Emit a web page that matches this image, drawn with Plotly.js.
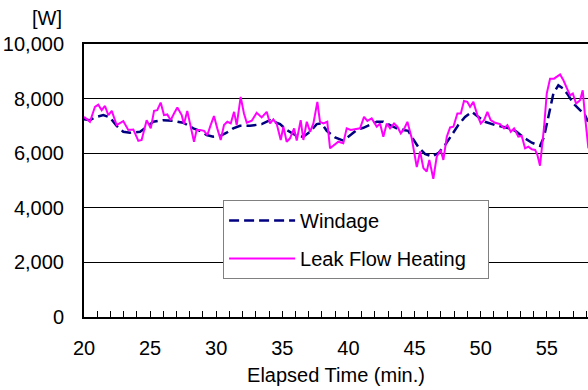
<!DOCTYPE html>
<html>
<head>
<meta charset="utf-8">
<script src="https://cdn.plot.ly/plotly-3.0.1.min.js"></script>
<style>html,body{margin:0;padding:0;background:#fff;overflow:hidden;}</style>
</head>
<body>
<div id="chart" style="width:588px;height:390px;"></div>
<script>
// Windage (dashed navy)
const windageTime = [20.0,20.45,20.83,21.46,21.97,22.47,22.97,23.48,24.24,24.74,25.24,26.0,26.75,27.51,28.27,28.77,29.28,29.78,30.29,30.79,31.29,31.8,32.56,33.44,34.07,34.83,35.33,36.09,36.59,37.1,37.6,37.98,38.36,38.99,39.61,40.25,40.63,41.13,41.63,42.14,42.64,43.15,43.65,44.15,44.53,44.79,45.29,45.79,46.3,46.8,47.31,47.81,48.31,48.82,49.33,49.83,50.33,51.09,51.72,52.22,52.73,53.23,53.87,54.49,54.8,55.12,55.5,55.88,56.26,56.63,57.01,57.52,57.9,58.12];
const windageW = [7240,7210,7310,7395,7310,7000,6785,6750,6785,6970,7150,7210,7185,7115,6910,6820,6665,6605,6630,6750,6910,7005,7005,7065,7210,7065,6850,6630,6605,6785,7065,7090,6820,6580,6460,6700,6850,6930,7030,7150,7150,7030,6910,6850,6820,6600,6220,5975,5875,6000,6300,6665,7030,7330,7515,7330,7150,7030,6970,6910,6785,6580,6385,6265,6605,7330,8185,8485,8365,8120,7820,7575,7395,7150];

// Leak Flow Heating (solid magenta)
const leakTime = [20.0,20.45,20.83,21.08,21.34,21.59,21.84,22.1,22.47,22.97,23.35,23.73,24.11,24.36,24.74,25.05,25.3,25.54,25.8,26.05,26.3,26.56,26.81,27.06,27.39,27.56,27.81,28.07,28.32,28.52,28.77,29.08,29.33,29.58,29.83,30.08,30.34,30.59,30.84,31.1,31.35,31.55,31.85,32.1,32.31,32.69,33.06,33.44,33.82,34.07,34.32,34.58,34.88,35.08,35.33,35.58,35.89,36.09,36.39,36.59,36.85,37.1,37.35,37.65,37.85,38.1,38.4,38.61,38.91,39.24,39.61,39.87,40.17,40.5,40.88,41.18,41.43,41.76,42.14,42.39,42.64,42.9,43.15,43.45,43.7,43.96,44.21,44.46,44.79,45.17,45.42,45.67,45.92,46.12,46.42,46.68,46.98,47.18,47.44,47.69,47.94,48.24,48.5,48.74,48.99,49.2,49.45,49.75,50.01,50.26,50.51,50.76,51.09,51.47,51.77,52.02,52.28,52.53,52.85,53.11,53.36,53.61,53.87,54.12,54.29,54.49,54.8,55.0,55.25,55.55,55.76,56.01,56.26,56.51,56.76,56.97,57.22,57.52,57.72,57.9,58.15];
const leakW = [7330,7150,7700,7780,7575,7730,7390,7550,7030,7175,6850,6870,6450,6485,7210,6910,7550,7575,7855,7395,7420,7210,7455,7675,7395,7065,7550,7030,6420,6850,6850,6820,6665,7030,7360,6910,6485,7030,7150,7090,7515,7030,8060,7455,7115,7190,7480,7310,7515,7090,7240,7065,6485,6970,6420,6545,6910,6460,7210,6485,7150,6785,7090,7880,7150,7090,7150,6180,6300,6420,6365,6910,6850,6875,6910,7330,7185,7275,6970,7090,6605,7090,6910,7090,6970,6730,6890,7150,6545,5490,6060,5455,5330,5755,5065,5875,6120,5755,6605,6945,6970,7455,7455,7915,7880,7700,7880,7395,7090,7210,7515,7210,7115,7065,6910,7030,6785,6910,6605,6630,6180,6240,6145,6120,5940,5540,6970,8185,8730,8730,8790,8885,8670,8425,8120,8185,7820,7940,8305,7330,6180];

const seriesNames = ["Windage", "Leak Flow Heating"];
const yUnit = "[W]";
const xTitle = "Elapsed Time (min.)";

const FONT = "Liberation Sans, Arial, sans-serif";

const traces = [
  {
    x: windageTime, y: windageW, name: seriesNames[0], type: "scatter", mode: "lines",
    line: {color: "#000080", width: 2.5, dash: "10px,5px"}, legendgroup: "a"
  },
  {
    x: leakTime, y: leakW, name: seriesNames[1] + "\u00a0\u00a0\u00a0", type: "scatter", mode: "lines",
    line: {color: "#FF00FF", width: 2}, legendgroup: "b"
  }
];

const layout = {
  width: 588, height: 390,
  margin: {l: 84, r: 0, t: 44, b: 73, pad: 0},
  paper_bgcolor: "#fff", plot_bgcolor: "#fff",
  font: {family: FONT, size: 20, color: "#000"},
  showlegend: true,
  legend: {
    x: 0.276, y: 0.4286, xanchor: "left", yanchor: "top",
    bgcolor: "#fff", bordercolor: "#808080", borderwidth: 1,
    font: {family: FONT, size: 20, color: "#000"},
    traceorder: "grouped", tracegroupgap: 9, itemwidth: 66
  },
  xaxis: {
    range: [20, 58.12], tick0: 20, dtick: 5,
    showline: true, linecolor: "#000", linewidth: 2, mirror: true,
    ticks: "inside", ticklen: 6, tickcolor: "#000", tickwidth: 1,
    minor: {dtick: 1, ticks: "inside", ticklen: 6, tickcolor: "#000", tickwidth: 1, showgrid: false},
    showgrid: false, zeroline: false,
    ticklabelstandoff: 12,
    tickfont: {family: FONT, size: 20, color: "#000"},
    title: {text: xTitle, font: {family: FONT, size: 20, color: "#000"}, standoff: 10}
  },
  yaxis: {
    range: [0, 10000], dtick: 2000, tick0: 0,
    showline: true, linecolor: "#000", linewidth: 2,
    ticks: "", showgrid: true, gridcolor: "#000", gridwidth: 1,
    zeroline: false, tickformat: ",d",
    ticklabelstandoff: 14,
    tickfont: {family: FONT, size: 20, color: "#000"}
  },
  annotations: [
    {text: yUnit, xref: "paper", yref: "paper", x: -0.073, y: 1.095, xanchor: "center", yanchor: "middle",
     showarrow: false, font: {family: FONT, size: 20, color: "#000"}}
  ]
};

Plotly.newPlot("chart", traces, layout, {displayModeBar: false, staticPlot: true});
</script>
</body>
</html>
